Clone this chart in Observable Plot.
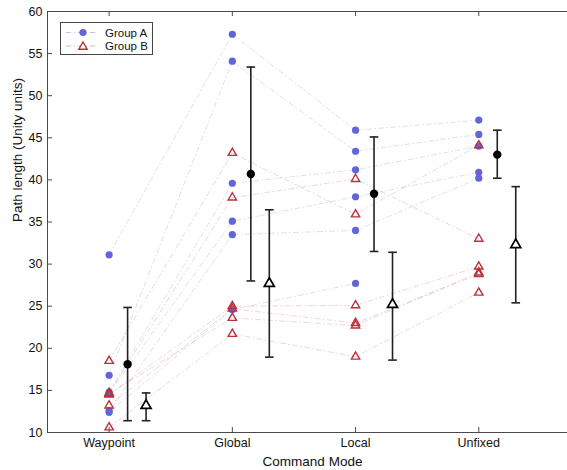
<!DOCTYPE html>
<html><head><meta charset="utf-8">
<script src="https://cdn.jsdelivr.net/npm/d3@7"></script>
<script src="https://cdn.jsdelivr.net/npm/@observablehq/plot@0.6"></script>
<style>
body{margin:0;background:#fff;}
#wrap{position:relative;width:567px;height:470px;font-family:"Liberation Sans",Arial,Helvetica,sans-serif;}
#legend{position:absolute;left:60px;top:22px;width:93px;height:33px;box-sizing:border-box;border:1px solid #444;background:#fff;}
</style></head><body><div id="wrap"></div>
<script>
// Categories and tick labels
const modes = ["Waypoint", "Global", "Local", "Unfixed"];
const yTicks = [10, 15, 20, 25, 30, 35, 40, 45, 50, 55, 60];
const groups = ["Group A", "Group B"];

// Individual participants (Waypoint, Global, Local, Unfixed)
const groupA = [
  [31.1, 57.3, 45.9, 47.1],
  [16.8, 54.1, 43.4, 45.4],
  [14.8, 39.6, 41.2, 44.0],
  [14.6, 35.1, 38.0, 40.9],
  [12.6, 33.5, 34.0, 40.2],
  [12.4, 24.6, 27.7, null]
];
const groupB = [
  [18.5, 43.2, 35.9, 44.1],
  [14.7, 37.9, 40.1, 33.0],
  [14.5, 25.0, 25.1, 29.7],
  [13.2, 24.7, 23.0, 28.8],
  [10.6, 21.7, 19.0, 26.6],
  [14.6, 23.6, 22.7, 29.0]
];

// Group means and error bar ends
const meanA = [18.1, 40.7, 38.35, 43.0];
const lowA  = [11.4, 28.0, 31.5, 40.2];
const highA = [24.85, 53.4, 45.1, 45.9];
const meanB = [13.2, 27.7, 25.2, 32.3];
const lowB  = [11.4, 18.95, 18.6, 25.4];
const highB = [14.7, 36.45, 31.4, 39.2];

const colA = "#6464d8", colB = "#b8323c";
const lineA = "#8c8cd8", lineB = "#c46a74";

function toRows(g, arr) {
  const out = [];
  arr.forEach((vals, p) => vals.forEach((v, i) => out.push({group: g, pid: g + p, x: i + 1, y: v == null ? NaN : v})));
  return out;
}
const rowsA = toRows(groups[0], groupA);
const rowsB = toRows(groups[1], groupB);
const sumA = modes.map((m, i) => ({x: i + 1 + 0.15, mean: meanA[i], lo: lowA[i], hi: highA[i]}));
const sumB = modes.map((m, i) => ({x: i + 1 + 0.30, mean: meanB[i], lo: lowB[i], hi: highB[i]}));
const cap = 0.035;
const axisCol = "#4a4a4a";

function errMarks(s) {
  return [
    Plot.ruleX(s, {x: "x", y1: "lo", y2: "hi", stroke: "#222", strokeWidth: 1.6}),
    Plot.link(s, {x1: d => d.x - cap, x2: d => d.x + cap, y1: "lo", y2: "lo", stroke: "#222", strokeWidth: 1.6}),
    Plot.link(s, {x1: d => d.x - cap, x2: d => d.x + cap, y1: "hi", y2: "hi", stroke: "#222", strokeWidth: 1.6})
  ];
}

const chart = Plot.plot({
  width: 567, height: 470,
  marginLeft: 47, marginRight: 0, marginTop: 11, marginBottom: 38,
  style: {fontSize: "12.5px", fontFamily: "'Liberation Sans', Arial, Helvetica, sans-serif", color: "#111", background: "#fff"},
  x: {type: "linear", domain: [0.5, 4.72]},
  y: {domain: [10, 60]},
  marks: [
    // participant lines
    Plot.line(rowsA, {x: "x", y: "y", z: "pid", stroke: lineA, strokeWidth: 0.8, strokeOpacity: 0.35, strokeDasharray: "5,3,1,3"}),
    Plot.line(rowsB, {x: "x", y: "y", z: "pid", stroke: lineB, strokeWidth: 0.8, strokeOpacity: 0.35, strokeDasharray: "5,3,1,3"}),
    // frame (left, top, bottom)
    Plot.ruleX([0.5], {stroke: axisCol}),
    Plot.ruleY([10, 60], {stroke: axisCol}),
    // inward ticks
    Plot.ruleY(yTicks, {stroke: axisCol, insetRight: 515}),
    Plot.ruleX([1, 2, 3, 4], {stroke: axisCol, insetTop: 416}),
    Plot.ruleX([1, 2, 3, 4], {stroke: axisCol, insetBottom: 416}),
    // tick labels
    Plot.axisY({ticks: yTicks, tickSize: 0, tickPadding: 5, label: null}),
    Plot.axisX({ticks: [1, 2, 3, 4], tickFormat: d => modes[d - 1], tickSize: 0, tickPadding: 6, label: null}),
    // points
    Plot.dot(rowsA.filter(d => !isNaN(d.y)), {x: "x", y: "y", r: 3.6, fill: colA, stroke: "none"}),
    Plot.dot(rowsB.filter(d => !isNaN(d.y)), {x: "x", y: "y", r: 3.1, symbol: "triangle", fill: "none", stroke: colB, strokeWidth: 1.4}),
    // error bars + means
    ...errMarks(sumA),
    ...errMarks(sumB),
    Plot.dot(sumA, {x: "x", y: "mean", r: 4.2, fill: "#000", stroke: "none"}),
    Plot.dot(sumB, {x: "x", y: "mean", r: 3.7, symbol: "triangle", fill: "#fff", stroke: "#000", strokeWidth: 1.7}),
    // axis titles
    Plot.text(["Command Mode"], {frameAnchor: "bottom", dx: 5, dy: 29.5, lineAnchor: "middle", fontSize: 13.5, fill: "#111"}),
    Plot.text(["Path length (Unity units)"], {frameAnchor: "left", dx: -30, rotate: -90, lineAnchor: "middle", fontSize: 13.5, fill: "#111"})
  ]
});
document.getElementById("wrap").appendChild(chart);

// Legend
const leg = d3.select("#wrap").append("div").attr("id", "legend");
const lsvg = leg.append("svg").attr("width", 91).attr("height", 31);
const items = [
  {name: groups[0], color: colA, line: lineA, sym: "circle"},
  {name: groups[1], color: colB, line: lineB, sym: "triangle"}
];
items.forEach((it, i) => {
  const y = 9.5 + i * 13.5;
  lsvg.append("line").attr("x1", 5).attr("x2", 36).attr("y1", y).attr("y2", y)
    .attr("stroke", it.line).attr("stroke-width", 0.9).attr("stroke-opacity", 0.6).attr("stroke-dasharray", "5,3,1,3");
  if (it.sym === "circle") {
    lsvg.append("circle").attr("cx", 22).attr("cy", y).attr("r", 3.6).attr("fill", it.color);
  } else {
    lsvg.append("path").attr("d", d3.symbol(d3.symbolTriangle, Math.PI * 3.1 * 3.1)())
      .attr("transform", `translate(22,${y + 0.8})`).attr("fill", "#fff").attr("stroke", it.color).attr("stroke-width", 1.4);
  }
  lsvg.append("text").attr("x", 44).attr("y", y).attr("dy", "0.35em")
    .attr("font-size", 11.5).attr("fill", "#111").text(it.name);
});
</script>
</body></html>
